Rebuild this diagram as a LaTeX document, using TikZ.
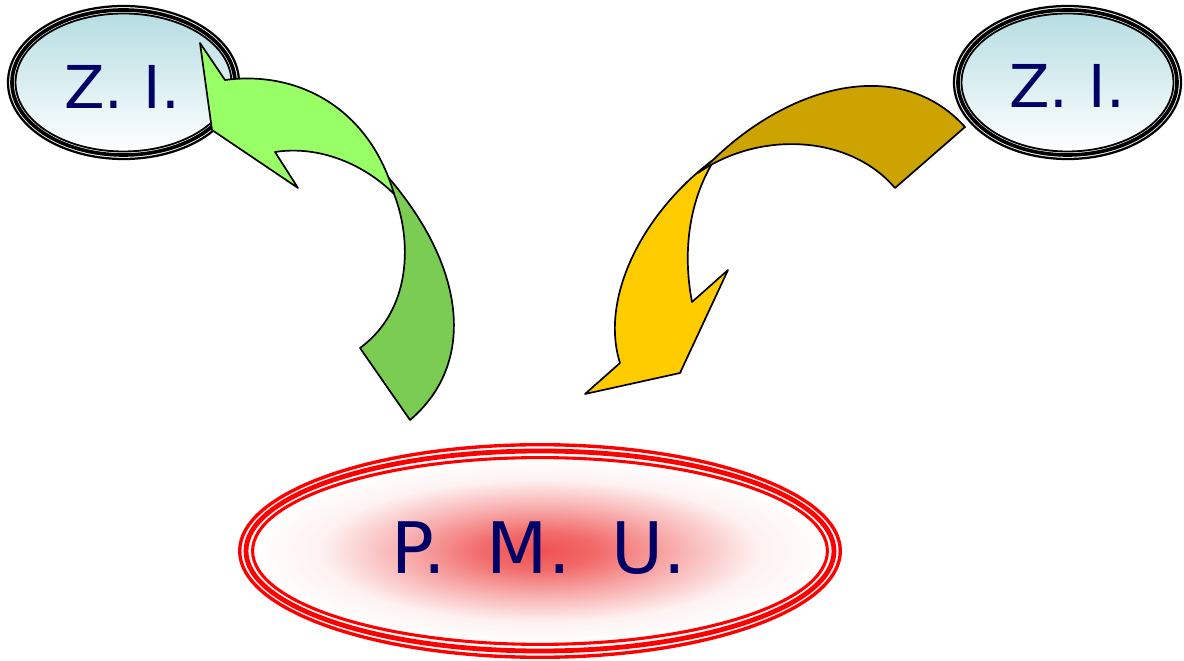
\documentclass[tikz,border=0pt]{standalone}
\usepackage{fontspec}
\usepackage{xcolor}
\usepackage{tikz}
\newfontfamily\labelfont{DejaVu Sans}

\definecolor{zinavy}{RGB}{0,0,102}
\definecolor{zitop}{RGB}{182,221,226}
\definecolor{pmured}{RGB}{240,80,80}
\definecolor{greenlight}{RGB}{153,255,102}
\definecolor{greendark}{RGB}{122,204,82}
\definecolor{golddark}{RGB}{204,163,0}
\definecolor{goldlight}{RGB}{255,204,0}
\pgfdeclareradialshading{pmuglow}{\pgfpoint{0bp}{0bp}}{color(0bp)=(pmured); color(5bp)=(pmured!85!white); color(12bp)=(pmured!45!white); color(19bp)=(pmured!8!white); color(25bp)=(white); color(50bp)=(white)}

\tikzset{
  zitext/.style={text=zinavy, inner sep=0pt, anchor=base, font=\labelfont\fontsize{42}{42}\selectfont},
  pmutext/.style={zitext, font=\labelfont\fontsize{50.5}{50.5}\selectfont},
  arrowline/.style={draw=black, line width=1.2pt, line join=round}
}

\begin{document}
\begin{tikzpicture}[x=0.025cm, y=-0.025cm]
\useasboundingbox (0,0) rectangle (1184,661);

\coordinate (zilc) at (123.5,82.5);
\coordinate (zirc) at (1067.5,82.5);
\coordinate (pmuc) at (540,551);

% the two Z. I. ellipses, three black rings each
\foreach \c/\ra/\rb/\rc in {zilc/115.5/111.5/108, zirc/113.5/109.5/106} {
    \shade[top color=zitop, bottom color=white] (\c) ellipse [x radius=\rc, y radius=69];
    \draw[line width=1.6pt] (\c) ellipse [x radius=\ra, y radius=76.5];
    \draw[line width=2.6pt] (\c) ellipse [x radius=\rb, y radius=72.5];
    \draw[line width=1.3pt] (\c) ellipse [x radius=\rc, y radius=69];
}
\node[zitext] (zil) at (122,109) {Z.\hspace{14.5pt}I.};
\node[zitext] (zir) at (1067,108) {Z.\hspace{14.5pt}I.};

% P. M. U.
\shade[shading=pmuglow] (pmuc) ellipse [x radius=287.4, y radius=93.4];
\draw[red, line width=2.4pt] (pmuc) ellipse [x radius=300.3, y radius=106.3];
\draw[red, line width=3.4pt] (pmuc) ellipse [x radius=294, y radius=100];
\draw[red, line width=2.2pt] (pmuc) ellipse [x radius=287.4, y radius=93.4];
\node[pmutext] (pmu) at (539,574) {P.\hspace{29pt}M.\hspace{29pt}U.};

% green arrow: back face, then front face
\filldraw[arrowline, fill=greendark] (388,177) -- (394,194) .. controls (412,240) and (412,310) .. (360,348) -- (410,420) .. controls (475,365) and (468,270) .. (388,177) -- cycle;
\filldraw[arrowline, fill=greenlight] (394,194) .. controls (370,110) and (300,70) .. (225,80) -- (200,43) -- (212,130) -- (298,188) -- (275,152) .. controls (320,145) and (365,165) .. (394,194) -- cycle;

% yellow arrow
\filldraw[arrowline, fill=goldlight] (713,160) .. controls (640,215) and (600,300) .. (620,363) -- (585,394) -- (680,373) -- (728,270) -- (692,302) .. controls (682,250) and (690,200) .. (713,162) -- cycle;
\filldraw[arrowline, fill=golddark] (698,173) -- (713,160) .. controls (790,85) and (900,55) .. (965,127) -- (895,188) .. controls (850,135) and (760,130) .. (698,173) -- cycle;

\end{tikzpicture}
\end{document}
